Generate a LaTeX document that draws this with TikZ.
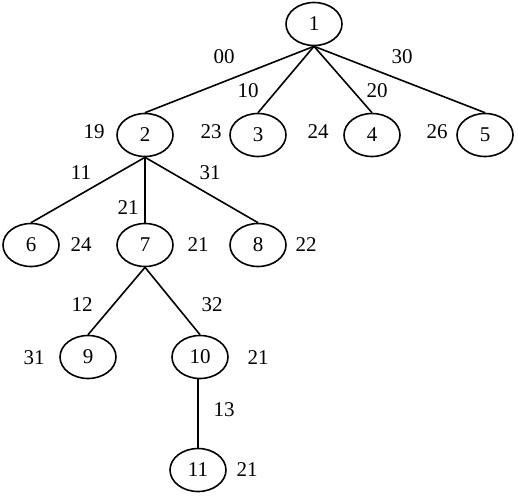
\documentclass[tikz,border=0pt]{standalone}
\usepackage{fontspec}
\setmainfont{Liberation Serif}
\usetikzlibrary{shapes.geometric,positioning}

\begin{document}
\begin{tikzpicture}[x=1pt, y=-1pt, every node/.style={font=\fontsize{21}{25}\selectfont},
  vert/.style={draw, ellipse, line width=1.6pt, minimum width=56pt, minimum height=43pt, inner sep=0pt},
  edge/.style={line width=1.6pt}]
\useasboundingbox (0,0) rectangle (518,495);
% tree nodes
\node[vert] (n1) at (314,24) {1};
\node[vert] (n2) at (145,135) {2};
\node[vert] (n3) at (258,135) {3};
\node[vert] (n4) at (372,135) {4};
\node[vert] (n5) at (485,135) {5};
\node[vert] (n6) at (31,245) {6};
\node[vert] (n7) at (145,245) {7};
\node[vert] (n8) at (258,245) {8};
\node[vert] (n9) at (88,357) {9};
\node[vert] (n10) at (200,357) {10};
\node[vert] (n11) at (198,470) {11};

% edges
\draw[edge] (n1.south) -- (n2.north);
\draw[edge] (n1.south) -- (n3.north);
\draw[edge] (n1.south) -- (n4.north);
\draw[edge] (n1.south) -- (n5.north);
\draw[edge] (n2.south) -- (n6.north);
\draw[edge] (n2.south) -- (n7.north);
\draw[edge] (n2.south) -- (n8.north);
\draw[edge] (n7.south) -- (n9.north);
\draw[edge] (n7.south) -- (n10.north);
\draw[edge] (n11.north |- n10.south) -- (n11.north);

% edge codes
\node (c2) at (224,57) {00};
\node (c3) at (248,91) {10};
\node (c4) at (377,91) {20};
\node (c5) at (402,57) {30};
\node (c6) at (81,173) {11};
\node (c7) at (128,208) {21};
\node (c8) at (210,173) {31};
\node (c9) at (82,305) {12};
\node (c10) at (212,305) {32};
\node (c11) at (224,410) {13};

% node values
\node (v2) at (94,132) {19};
\node (v3) at (211,132) {23};
\node (v4) at (318,132) {24};
\node (v5) at (437,132) {26};
\node (v6) at (81,245) {24};
\node (v7) at (198,245) {21};
\node (v8) at (306,245) {22};
\node (v9) at (34,358) {31};
\node (v10) at (258,358) {21};
\node (v11) at (247,470) {21};
\end{tikzpicture}
\end{document}
